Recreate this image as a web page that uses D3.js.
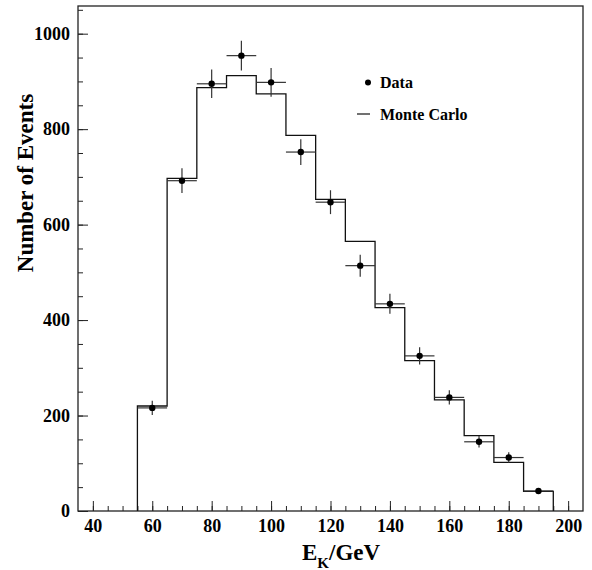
<!DOCTYPE html>
<head>
  <meta charset="utf-8">
  <title>Kaon energy spectrum</title>
  <style>
    body {
      margin: 0;
      padding: 0;
      background-color: #fff;
    }
    text {
      font-family: 'Liberation Serif', 'Times New Roman', serif;
      font-weight: bold;
      fill: #000;
    }
    .axis path, .axis line {
      stroke: #222;
    }
    .axis text {
      font-size: 18px;
    }
    .mc {
      fill: none;
      stroke: #111;
      stroke-width: 1.3;
    }
    .err {
      stroke: #333;
      stroke-width: 1.2;
    }
  </style>
</head>
<body>
  <div id="vis"></div>

  <script src="https://cdn.jsdelivr.net/npm/d3@7"></script>
  <script>
    // bin centres in GeV, 10 GeV wide
    var binCenters = [60, 70, 80, 90, 100, 110, 120, 130, 140, 150, 160, 170, 180, 190];
    var mcCounts   = [220, 697, 887, 912, 874, 787, 653, 565, 426, 315, 233, 158, 102, 41];
    var dataCounts = [216, 692, 895, 954, 898, 752, 647, 514, 434, 325, 238, 145, 112, 42];
    var dataErrors = [15, 26, 30, 31, 30, 27, 25, 23, 21, 18, 15, 12, 11, 6];
    var binHalf = 5;

    var xTickLabels = [40, 60, 80, 100, 120, 140, 160, 180, 200];
    var yTickLabels = [0, 200, 400, 600, 800, 1000];

    var width = 592, height = 570,
        margin = {left: 78, top: 6, right: 9, bottom: 59},
        plotW = width - margin.left - margin.right,
        plotH = height - margin.top - margin.bottom;

    var svg = d3.select("#vis").append("svg")
      .attr("width", width)
      .attr("height", height);

    var x = d3.scaleLinear().domain([35, 205]).range([0, plotW]);
    var y = d3.scaleLinear().domain([0, 1058]).range([plotH, 0]);

    var g = svg.append("g")
      .attr("transform", "translate(" + margin.left + "," + margin.top + ")");

    // minor ticks first (every 5 GeV / 50 events), inward
    g.append("g")
      .attr("class", "axis")
      .attr("transform", "translate(0," + plotH + ")")
      .call(d3.axisBottom(x).tickValues(d3.range(40, 205, 5)).tickSize(-5).tickFormat(""))
      .select(".domain").remove();
    g.append("g")
      .attr("class", "axis")
      .call(d3.axisLeft(y).tickValues(d3.range(0, 1058, 50)).tickSize(-5).tickFormat(""))
      .select(".domain").remove();

    // major ticks with labels
    g.append("g")
      .attr("class", "axis")
      .attr("transform", "translate(0," + plotH + ")")
      .call(d3.axisBottom(x).tickValues(xTickLabels).tickSize(-10).tickPadding(8).tickFormat(d3.format("d")))
      .select(".domain").remove();
    g.append("g")
      .attr("class", "axis")
      .call(d3.axisLeft(y).tickValues(yTickLabels).tickSize(-10).tickPadding(8).tickFormat(d3.format("d")))
      .select(".domain").remove();

    g.selectAll(".axis text").attr("fill", "#000");

    // frame
    g.append("rect")
      .attr("width", plotW)
      .attr("height", plotH)
      .attr("fill", "none")
      .attr("stroke", "#222")
      .attr("stroke-width", 1.3);

    // Monte Carlo histogram as a step outline
    var pts = [[binCenters[0] - binHalf, 0]];
    binCenters.forEach(function(c, i) {
      pts.push([c - binHalf, mcCounts[i]]);
      pts.push([c + binHalf, mcCounts[i]]);
    });
    pts.push([binCenters[binCenters.length - 1] + binHalf, 0]);

    var line = d3.line()
      .x(function(d) { return x(d[0]); })
      .y(function(d) { return y(d[1]); });

    g.append("path")
      .attr("class", "mc")
      .attr("d", line(pts));

    // data points with error bars
    var pt = g.selectAll(".pt")
      .data(binCenters)
      .enter().append("g")
        .attr("class", "pt");

    pt.append("line")
      .attr("class", "err")
      .attr("x1", function(d) { return x(d - binHalf); })
      .attr("x2", function(d) { return x(d + binHalf); })
      .attr("y1", function(d, i) { return y(dataCounts[i]); })
      .attr("y2", function(d, i) { return y(dataCounts[i]); });

    pt.append("line")
      .attr("class", "err")
      .attr("x1", function(d) { return x(d); })
      .attr("x2", function(d) { return x(d); })
      .attr("y1", function(d, i) { return y(dataCounts[i] - dataErrors[i]); })
      .attr("y2", function(d, i) { return y(dataCounts[i] + dataErrors[i]); });

    pt.append("circle")
      .attr("cx", function(d) { return x(d); })
      .attr("cy", function(d, i) { return y(dataCounts[i]); })
      .attr("r", 3.2)
      .attr("fill", "#000");

    // legend
    svg.append("circle")
      .attr("cx", 368).attr("cy", 82.5).attr("r", 3)
      .attr("fill", "#000");
    svg.append("text")
      .attr("x", 380).attr("y", 87.5)
      .style("font-size", "16px")
      .text("Data");
    svg.append("line")
      .attr("x1", 357).attr("x2", 370)
      .attr("y1", 114).attr("y2", 114)
      .attr("stroke", "#111").attr("stroke-width", 1.2);
    svg.append("text")
      .attr("x", 380).attr("y", 119.5)
      .style("font-size", "16px")
      .text("Monte Carlo");

    // axis titles
    var xt = svg.append("text")
      .attr("x", 302).attr("y", 560)
      .style("font-size", "23px");
    xt.append("tspan").text("E");
    xt.append("tspan").attr("dy", 8).style("font-size", "15px").text("K");
    xt.append("tspan").attr("dy", -8).text("/GeV");

    svg.append("text")
      .attr("transform", "rotate(-90)")
      .attr("x", -183).attr("y", 33)
      .attr("text-anchor", "middle")
      .style("font-size", "23px")
      .text("Number of Events");
  </script>
</body>
